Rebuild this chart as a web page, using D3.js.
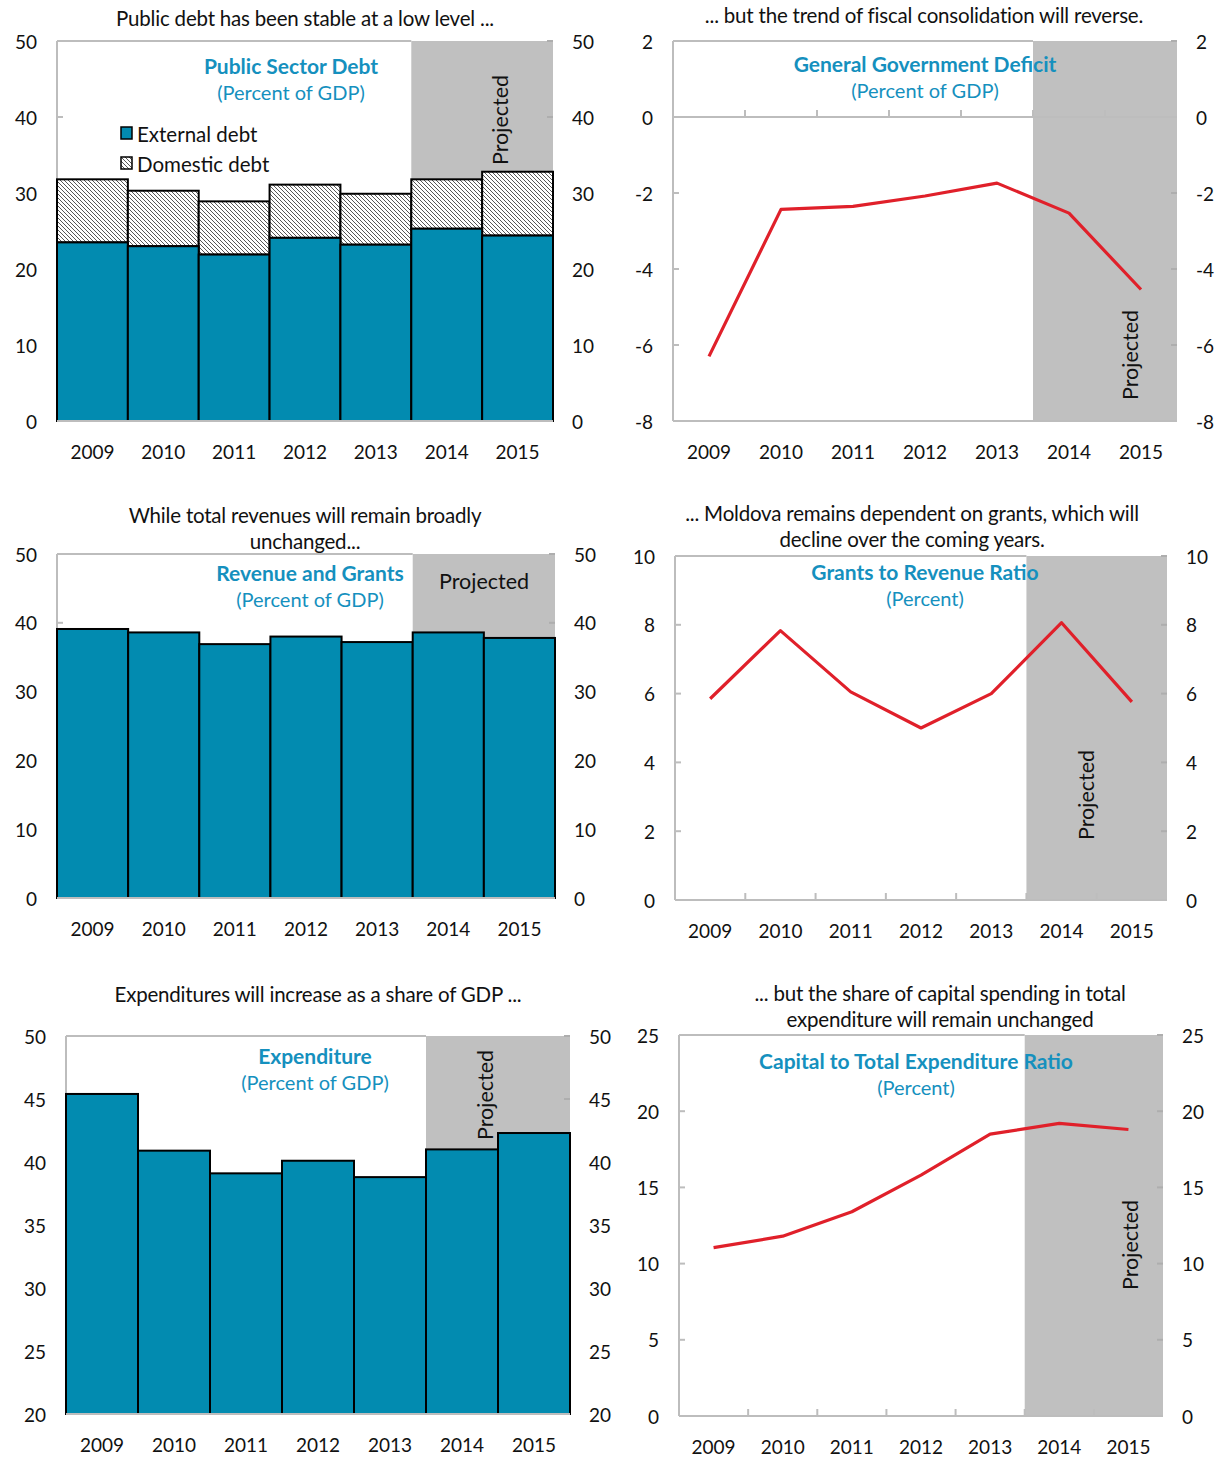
<!DOCTYPE html>
<html><head><meta charset="utf-8">
<script src="https://cdn.jsdelivr.net/npm/d3@7"></script>
<style>body{margin:0;background:#fff}svg{display:block;font-family:Lato,"Open Sans",sans-serif}</style>
</head><body>
<svg id="c" width="1225" height="1459"></svg>
<script>
const years = ["2009","2010","2011","2012","2013","2014","2015"];
const externalDebt = [23.5, 23.0, 21.9, 24.1, 23.2, 25.3, 24.4];
const domesticDebt = [8.3, 7.3, 7.0, 7.0, 6.7, 6.5, 8.4];
const deficit = [-6.3, -2.43, -2.35, -2.08, -1.74, -2.53, -4.54];
const revenueGrants = [39.1, 38.6, 36.9, 38.0, 37.2, 38.6, 37.8];
const grantsRatio = [5.85, 7.83, 6.05, 5.0, 6.0, 8.06, 5.76];
const expenditure = [45.4, 40.9, 39.1, 40.1, 38.8, 41.0, 42.3];
const capitalRatio = [11.05, 11.8, 13.4, 15.8, 18.5, 19.2, 18.8];
const debtTicks = [0,10,20,30,40,50];
const deficitTicks = [-8,-6,-4,-2,0,2];
const revenueTicks = [0,10,20,30,40,50];
const grantsTicks = [0,2,4,6,8,10];
const expTicks = [20,25,30,35,40,45,50];
const capTicks = [0,5,10,15,20,25];
const projectedFrom = "2014";

const BLUE = "#028BB0", RED = "#E0202A", GRAY = "#C0C0C0", AX = "#BDBDBD", TCOL = "#1590BE";
const svg = d3.select("#c");
const defs = svg.append("defs");
const pat = defs.append("pattern").attr("id","hatch").attr("patternUnits","userSpaceOnUse")
  .attr("width",4).attr("height",4);
pat.append("rect").attr("width",4).attr("height",4).attr("fill","#fff");
pat.append("path").attr("d","M-1,-1L5,5M-1,3L1,5M3,-1L5,1").attr("stroke","#444").attr("stroke-width",0.9);

function panel(cfg){
  const g = svg.append("g");
  const x = d3.scaleBand().domain(years).range([cfg.l, cfg.r]).padding(0);
  const y = d3.scaleLinear().domain(cfg.domain).range([cfg.b, cfg.t]);
  g.append("rect").attr("x", x(projectedFrom)).attr("y", cfg.t)
    .attr("width", cfg.r - x(projectedFrom)).attr("height", cfg.b - cfg.t).attr("fill", GRAY);
  g.append("line").attr("x1",cfg.l).attr("x2",x(projectedFrom)).attr("y1",cfg.t).attr("y2",cfg.t).attr("stroke",AX).attr("stroke-width",2);
  g.append("line").attr("x1",cfg.l).attr("x2",cfg.l).attr("y1",cfg.t).attr("y2",cfg.b).attr("stroke",AX).attr("stroke-width",2);
  const ticksG = g.append("g");
  cfg.ticks.forEach(v=>{
    ticksG.append("line").attr("x1",cfg.l).attr("x2",cfg.l+6).attr("y1",y(v)).attr("y2",y(v)).attr("stroke",AX).attr("stroke-width",2);
    ticksG.append("line").attr("x1",cfg.r-6).attr("x2",cfg.r).attr("y1",y(v)).attr("y2",y(v)).attr("stroke","#AEAEAE").attr("stroke-width",2);
  });
  const axisY = cfg.zero !== undefined ? y(cfg.zero) : cfg.b;
  years.slice(1).forEach(yr=>{
    g.append("line").attr("x1",x(yr)).attr("x2",x(yr)).attr("y1",axisY).attr("y2",axisY-7).attr("stroke",AX).attr("stroke-width",2);
  });
  if (cfg.bars){ cfg.bars(g, x, y); }
  g.append("line").attr("x1",cfg.l).attr("x2",cfg.r).attr("y1",axisY).attr("y2",axisY).attr("stroke",AX).attr("stroke-width",2);
  if (cfg.zero !== undefined){
    g.append("line").attr("x1",cfg.l).attr("x2",cfg.r).attr("y1",cfg.b).attr("y2",cfg.b).attr("stroke",AX).attr("stroke-width",2);
  }
  if (cfg.line){
    const ln = d3.line().x((d,i)=>x(years[i])+x.bandwidth()/2).y(d=>y(d));
    g.append("path").datum(cfg.line).attr("d",ln).attr("fill","none").attr("stroke",RED).attr("stroke-width",3.2).attr("stroke-linejoin","round");
  }
  cfg.ticks.forEach(v=>{
    g.append("text").attr("x",cfg.l-20).attr("y",y(v)).attr("text-anchor","end").attr("dominant-baseline","central")
      .attr("font-size",19).attr("fill","#111").text(v);
    g.append("text").attr("x",cfg.r+19).attr("y",y(v)).attr("text-anchor","start").attr("dominant-baseline","central")
      .attr("font-size",19).attr("fill","#111").text(v);
  });
  years.forEach(yr=>{
    g.append("text").attr("x",x(yr)+x.bandwidth()/2).attr("y",cfg.b+30).attr("text-anchor","middle").attr("dominant-baseline","central")
      .attr("font-size",19).attr("fill","#111").text(yr);
  });
  cfg.header.forEach((t,i)=>{
    g.append("text").attr("x",cfg.hx).attr("y",cfg.hy+i*26).attr("text-anchor","middle").attr("dominant-baseline","central")
      .attr("font-size",20.5).attr("fill","#111").attr("letter-spacing",-0.2).text(t);
  });
  g.append("text").attr("x",cfg.tx).attr("y",cfg.ty).attr("text-anchor","middle").attr("dominant-baseline","central")
    .attr("font-size",21).attr("font-weight","bold").attr("fill",TCOL).text(cfg.title);
  g.append("text").attr("x",cfg.tx).attr("y",cfg.ty+27).attr("text-anchor","middle").attr("dominant-baseline","central")
    .attr("font-size",20).attr("fill",TCOL).text(cfg.sub);
  if (cfg.projRot){
    g.append("text").attr("transform",`translate(${cfg.px},${cfg.py}) rotate(-90)`).attr("text-anchor","middle").attr("dominant-baseline","central")
      .attr("font-size",21.5).attr("fill","#111").text("Projected");
  } else {
    g.append("text").attr("x",cfg.px).attr("y",cfg.py).attr("text-anchor","middle").attr("dominant-baseline","central")
      .attr("font-size",21.5).attr("fill","#111").text("Projected");
  }
  return {g,x,y};
}

function simpleBars(values, base){
  return (g,x,y)=>{
    g.selectAll(null).data(values).join("rect")
      .attr("x",(d,i)=>x(years[i])).attr("width",x.bandwidth())
      .attr("y",d=>y(d)).attr("height",d=>y(base)-y(d))
      .attr("fill",BLUE).attr("stroke","#000").attr("stroke-width",2);
  };
}

const p1 = panel({l:57,r:553,t:41,b:421,domain:[0,50],ticks:debtTicks,
  header:["Public debt has been stable at a low level ..."],hx:305,hy:18,
  title:"Public Sector Debt",sub:"(Percent of GDP)",tx:291,ty:65,
  projRot:true,px:500,py:120,
  bars:(g,x,y)=>{
    g.selectAll(null).data(externalDebt).join("rect")
      .attr("x",(d,i)=>x(years[i])).attr("width",x.bandwidth())
      .attr("y",(d,i)=>y(d+domesticDebt[i])).attr("height",(d,i)=>y(d)-y(d+domesticDebt[i]))
      .attr("fill","url(#hatch)").attr("stroke","#000").attr("stroke-width",2);
    g.selectAll(null).data(externalDebt).join("rect")
      .attr("x",(d,i)=>x(years[i])).attr("width",x.bandwidth())
      .attr("y",d=>y(d)).attr("height",d=>y(0)-y(d))
      .attr("fill",BLUE).attr("stroke","#000").attr("stroke-width",2);
  }});
const lg = p1.g.append("g");
lg.append("rect").attr("x",121).attr("y",127).attr("width",11).attr("height",12).attr("fill",BLUE).attr("stroke","#000").attr("stroke-width",1.5);
lg.append("text").attr("x",137).attr("y",134).attr("dominant-baseline","central").attr("font-size",20.5).attr("fill","#111").text("External debt");
lg.append("rect").attr("x",121).attr("y",157).attr("width",11).attr("height",12).attr("fill","url(#hatch)").attr("stroke","#000").attr("stroke-width",1.5);
lg.append("text").attr("x",137).attr("y",164).attr("dominant-baseline","central").attr("font-size",20.5).attr("fill","#111").text("Domestic debt");

panel({l:673,r:1177,t:41,b:421,domain:[-8,2],zero:0,ticks:deficitTicks,
  header:["... but the trend of fiscal consolidation will reverse."],hx:924,hy:15,
  title:"General Government Deficit",sub:"(Percent of GDP)",tx:925,ty:63,
  projRot:true,px:1130,py:355,line:deficit});

panel({l:57,r:555,t:554,b:898,domain:[0,50],ticks:revenueTicks,
  header:["While total revenues will remain broadly","unchanged..."],hx:305,hy:515,
  title:"Revenue and Grants",sub:"(Percent of GDP)",tx:310,ty:572,
  projRot:false,px:484,py:581,bars:simpleBars(revenueGrants,0)});

panel({l:675,r:1167,t:556,b:900,domain:[0,10],ticks:grantsTicks,
  header:["... Moldova remains dependent on grants, which will","decline over the coming years."],hx:912,hy:513,
  title:"Grants to Revenue Ratio",sub:"(Percent)",tx:925,ty:571,
  projRot:true,px:1086,py:795,line:grantsRatio});

panel({l:66,r:570,t:1036,b:1414,domain:[20,50],ticks:expTicks,
  header:["Expenditures will increase as a share of GDP ..."],hx:318,hy:994,
  title:"Expenditure",sub:"(Percent of GDP)",tx:315,ty:1055,
  projRot:true,px:485,py:1095,bars:simpleBars(expenditure,20)});

panel({l:679,r:1163,t:1035,b:1416,domain:[0,25],ticks:capTicks,
  header:["... but the share of capital spending in total","expenditure will remain unchanged"],hx:940,hy:993,
  title:"Capital  to Total Expenditure Ratio",sub:"(Percent)",tx:916,ty:1060,
  projRot:true,px:1130,py:1245,line:capitalRatio});
</script>
</body></html>
